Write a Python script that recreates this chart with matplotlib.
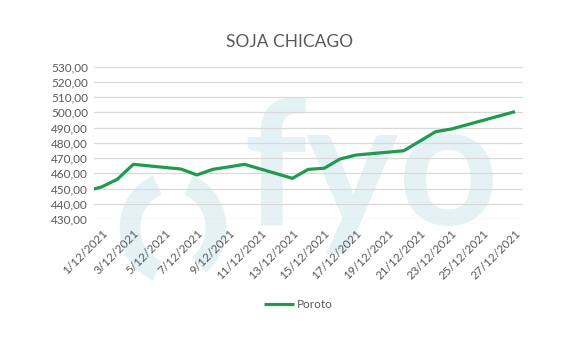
import matplotlib
matplotlib.use("Agg")
import matplotlib.pyplot as plt
from matplotlib.patches import Arc
import numpy as np

# ---- data ----
dates = ["30/11/2021", "1/12/2021", "2/12/2021", "3/12/2021", "6/12/2021", "7/12/2021",
         "8/12/2021", "9/12/2021", "10/12/2021", "13/12/2021", "14/12/2021", "15/12/2021",
         "16/12/2021", "17/12/2021", "20/12/2021", "21/12/2021", "22/12/2021", "23/12/2021",
         "27/12/2021"]
poroto = [445.7, 451.0, 456.1, 465.9, 462.8, 458.9, 462.6, 464.2, 465.9, 456.7, 462.6,
          463.3, 469.4, 472.0, 474.8, 481.0, 487.3, 489.1, 500.5]
tick_labels = ["1/12/2021", "3/12/2021", "5/12/2021", "7/12/2021", "9/12/2021",
               "11/12/2021", "13/12/2021", "15/12/2021", "17/12/2021", "19/12/2021",
               "21/12/2021", "23/12/2021", "25/12/2021", "27/12/2021"]
y_ticks = [430, 440, 450, 460, 470, 480, 490, 500, 510, 520, 530]
title = "SOJA CHICAGO"
series_name = "Poroto"

def day_num(s):
    d, m, y = (int(p) for p in s.split("/"))
    return d if m == 12 else d - 31  # November days before December

x = [day_num(s) for s in dates]
xt = [day_num(s) for s in tick_labels]

plt.rcParams['font.family'] = ['Lato', 'DejaVu Sans']
GRAY = "#595959"
GREEN = "#1f9a50"
WM = "#e4f2f5"

W, H = 579, 352
fig = plt.figure(figsize=(W / 100, H / 100), dpi=100)
fig.patch.set_facecolor("white")

ax = fig.add_axes([93.5 / W, 1 - 219 / H, (523 - 93.5) / W, (219 - 66.7) / H])
ax.set_facecolor("none")

# watermark logo (behind everything)
wm_ax = fig.add_axes([0, 0, 1, 1], zorder=-5)
wm_ax.set_xlim(0, W)
wm_ax.set_ylim(H, 0)
wm_ax.axis("off")
wm_ax.text(243, 225, "fyo", fontsize=126, fontweight="bold", color=WM,
           ha="left", va="baseline", family="Lato")
wm_ax.add_patch(Arc((173, 228), 86, 92, theta1=110, theta2=250, lw=15, color=WM))
wm_ax.add_patch(Arc((173, 228), 86, 92, theta1=-70, theta2=55, lw=15, color=WM))

ax.plot(x, poroto, color=GREEN, lw=2.3, solid_joinstyle="round", solid_capstyle="butt",
        label=series_name, zorder=3)

ax.set_xlim(0.5, 27.5)
ax.set_ylim(430, 530)
ax.set_yticks(y_ticks)
ax.set_yticklabels([f"{v:.2f}".replace(".", ",") for v in y_ticks])
ax.set_xticks(xt)
ax.set_xticklabels(tick_labels, rotation=45, ha="right", rotation_mode="anchor")
ax.tick_params(axis="both", length=0, colors=GRAY, labelsize=8.5)
ax.tick_params(axis="x", pad=6)
ax.tick_params(axis="y", pad=4)
ax.grid(axis="y", color="#d9d9d9", lw=0.9)
ax.set_axisbelow(True)
for s in ax.spines.values():
    s.set_visible(False)

fig.text(290 / W, 1 - 42 / H, title, ha="center", va="center", fontsize=12.5, color=GRAY)

leg = fig.legend(handles=ax.get_lines(), labels=[series_name], loc="center",
                 bbox_to_anchor=(298 / W, 1 - 305 / H), frameon=False, fontsize=8.5,
                 handlelength=2.6, handletextpad=0.2, labelcolor=GRAY)

fig.savefig("out.png", dpi=100, facecolor="white")
